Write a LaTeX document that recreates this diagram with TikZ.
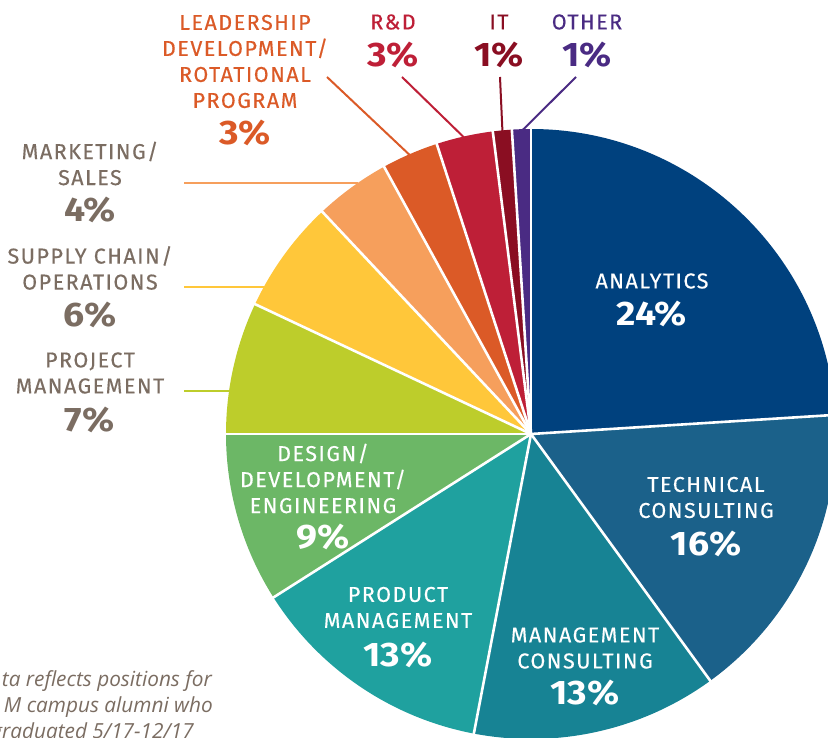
\documentclass[tikz,border=0pt]{standalone}
\usepackage{fontspec}
\usetikzlibrary{calc}
\setmainfont{Fira Sans}
\newfontfamily\lblfont[LetterSpace=7,FakeBold=0.35]{Fira Sans}
\newfontfamily\pctfont[FakeStretch=1.1]{Fira Sans}
\newfontfamily\notefont{Open Sans}
\definecolor{cAna}{HTML}{00417E}
\definecolor{cTec}{HTML}{1B618A}
\definecolor{cMgc}{HTML}{178394}
\definecolor{cPrd}{HTML}{1FA19F}
\definecolor{cDes}{HTML}{6CB766}
\definecolor{cPrj}{HTML}{BDCD2B}
\definecolor{cSup}{HTML}{FFC73A}
\definecolor{cMkt}{HTML}{F69F5C}
\definecolor{cLdr}{HTML}{DB5A27}
\definecolor{cRnd}{HTML}{BE1F37}
\definecolor{cIT}{HTML}{8A0E22}
\definecolor{cOth}{HTML}{4A2B83}
\definecolor{cGry}{HTML}{7B6D62}
\begin{document}
\begin{tikzpicture}[x=1pt,y=1pt,
  lbl/.style={font=\lblfont\fontsize{21.5}{26}\selectfont, align=center, inner sep=0pt},
  pct/.style={font=\pctfont\bfseries\fontsize{34}{34}\selectfont, inner sep=0pt},
  note/.style={font=\notefont\itshape\fontsize{20.8}{26}\selectfont, text=cGry, inner sep=0pt},
  leader/.style={line width=2pt},
  sep/.style={draw=white, line width=2.6pt}]
\useasboundingbox (0,0) rectangle (828,737);
\clip (0,0) rectangle (828,737);
\fill[white] (0,0) rectangle (828,737);
\coordinate (c) at (531,303);

% leader line coordinates
\coordinate (mktA) at (184,554);
\coordinate (mktB) at (358,554);
\coordinate (supA) at (184,450);
\coordinate (supB) at (266,450);
\coordinate (prjA) at (184,346);
\coordinate (prjB) at (232,346);
\coordinate (ldrA) at (327,660);
\coordinate (ldrB) at ($(c)+(113.4:303)$);
\coordinate (rndA) at (402,660);
\coordinate (rndB) at ($(c)+(102.6:303)$);
\coordinate (itA) at (500,660);
\coordinate (itB) at ($(c)+(95.4:303)$);
\coordinate (othA) at (576,660);
\coordinate (othB) at ($(c)+(91.8:303)$);

\draw[leader, cMkt] (mktA) -- (mktB);
\draw[leader, cSup] (supA) -- (supB);
\draw[leader, cPrj] (prjA) -- (prjB);
\draw[leader, cLdr] (ldrA) -- (ldrB);
\draw[leader, cRnd] (rndA) -- (rndB);
\draw[leader, cIT] (itA) -- (itB);
\draw[leader, cOth] (othA) -- (othB);

% slices
\fill[cAna] (c) -- ++(90:305) arc[start angle=90, end angle=3.6, radius=305] -- cycle;
\fill[cTec] (c) -- ++(3.6:305) arc[start angle=3.6, end angle=-54, radius=305] -- cycle;
\fill[cMgc] (c) -- ++(-54:305) arc[start angle=-54, end angle=-100.8, radius=305] -- cycle;
\fill[cPrd] (c) -- ++(-100.8:305) arc[start angle=-100.8, end angle=-147.6, radius=305] -- cycle;
\fill[cDes] (c) -- ++(-147.6:305) arc[start angle=-147.6, end angle=-180, radius=305] -- cycle;
\fill[cPrj] (c) -- ++(180:305) arc[start angle=180, end angle=154.8, radius=305] -- cycle;
\fill[cSup] (c) -- ++(154.8:305) arc[start angle=154.8, end angle=133.2, radius=305] -- cycle;
\fill[cMkt] (c) -- ++(133.2:305) arc[start angle=133.2, end angle=118.8, radius=305] -- cycle;
\fill[cLdr] (c) -- ++(118.8:305) arc[start angle=118.8, end angle=108, radius=305] -- cycle;
\fill[cRnd] (c) -- ++(108:305) arc[start angle=108, end angle=97.2, radius=305] -- cycle;
\fill[cIT] (c) -- ++(97.2:305) arc[start angle=97.2, end angle=93.6, radius=305] -- cycle;
\fill[cOth] (c) -- ++(93.6:305) arc[start angle=93.6, end angle=90, radius=305] -- cycle;
\foreach \a in {90,3.6,-54,-100.8,-147.6,180,154.8,133.2,118.8,108,97.2,93.6}
  \draw[sep] (c) -- ++(\a:306);

% labels inside
\node[lbl, text=white] (anaL) at (652,456) {ANALYTICS};
\node[pct, text=white] (anaP) at (652,423) {24\%};
\node[lbl, text=white] (tecL) at (706,239.5) {TECHNICAL\\CONSULTING};
\node[pct, text=white] (tecP) at (706,193.5) {16\%};
\node[lbl, text=white] (mgcL) at (585,89) {MANAGEMENT\\CONSULTING};
\node[pct, text=white] (mgcP) at (585,44.5) {13\%};
\node[lbl, text=white] (prdL) at (398,129.5) {PRODUCT\\MANAGEMENT};
\node[pct, text=white] (prdP) at (398,82.5) {13\%};
\node[lbl, text=white] (desL) at (323,258.5) {DESIGN/\\DEVELOPMENT/\\ENGINEERING};
\node[pct, text=white] (desP) at (323,200) {9\%};

% labels outside
\node[lbl, text=cGry] (prjL) at (90,364) {PROJECT\\MANAGEMENT};
\node[pct, text=cGry] (prjP) at (90,317) {7\%};
\node[lbl, text=cGry] (supL) at (90,469) {SUPPLY CHAIN/\\OPERATIONS};
\node[pct, text=cGry] (supP) at (90,422) {6\%};
\node[lbl, text=cGry] (mktL) at (90,573.5) {MARKETING/\\SALES};
\node[pct, text=cGry] (mktP) at (90,527) {4\%};
\node[lbl, text=cLdr] (ldrL) at (245,675.5) {LEADERSHIP\\DEVELOPMENT/\\ROTATIONAL\\PROGRAM};
\node[pct, text=cLdr] (ldrP) at (245,604) {3\%};
\node[lbl, text=cRnd] (rndL) at (393,715) {R\&D};
\node[pct, text=cRnd] (rndP) at (393,682) {3\%};
\node[lbl, text=cIT] (itL) at (499,715) {IT};
\node[pct, text=cIT] (itP) at (499,682) {1\%};
\node[lbl, text=cOth] (othL) at (587,715) {OTHER};
\node[pct, text=cOth] (othP) at (587,682) {1\%};

% footnote
\node[note, anchor=base east] (n1) at (212,51) {ta reflects positions for};
\node[note, anchor=base east] (n2) at (213,25) {M campus alumni who};
\node[note, anchor=base east] (n3) at (194,-1) {graduated 5/17-12/17};
\end{tikzpicture}
\end{document}
